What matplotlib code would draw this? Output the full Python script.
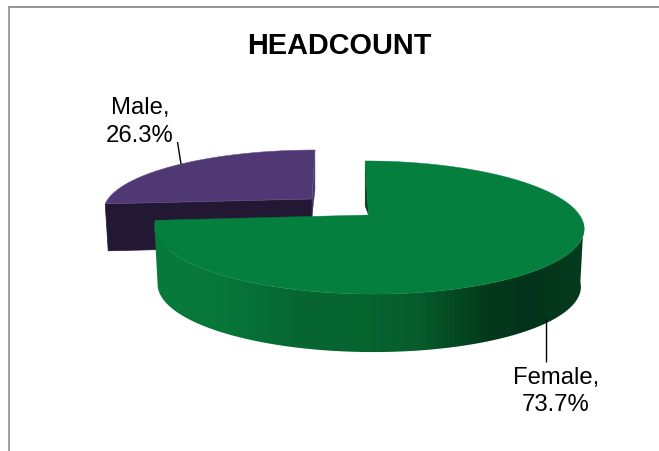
import numpy as np
import matplotlib
matplotlib.use("Agg")
import matplotlib.pyplot as plt
from matplotlib.patches import Polygon
from matplotlib.colors import LinearSegmentedColormap

plt.rcParams['font.family'] = ['Liberation Sans', 'DejaVu Sans']

# Data
labels = ["Female", "Male"]
values = [73.7, 26.3]
title = "HEADCOUNT"

# Colours
GREEN_TOP = "#047f3d"
GREEN_DARK = "#03401f"
PURPLE_TOP = "#503874"
PURPLE_FRONT = "#231833"
PURPLE_SIDE = "#4c356f"
wall_x = [150, 215, 250, 300, 370, 420, 470, 490, 530, 585]
wall_rgb = np.array([[7, 122, 60], [7, 120, 58], [6, 112, 56], [6, 102, 50], [7, 100, 47],
                     [6, 92, 44], [4, 66, 31], [3, 58, 27], [3, 51, 26], [5, 60, 30]]) / 255

W, H = 659, 452
fig = plt.figure(figsize=(W / 100, H / 100), dpi=100)
ax = fig.add_axes([0, 0, 1, 1])

PERSP = 0.188


def project(theta, apex, a, b, s):
    """Clockwise-from-top angle (radians) to picture position on the tilted pie plane."""
    theta = np.asarray(theta, dtype=float)
    w = 1 + PERSP * np.cos(theta)
    x = apex[0] + (a * np.sin(theta) + s * np.cos(theta)) / w
    y = apex[1] - b * np.cos(theta) / w
    return np.column_stack([x, y])


female_sweep = 2 * np.pi * values[0] / sum(values)

# Male slice: sits further back, pulled away from the Female slice
male_apex = (312, 200)
male_kw = dict(apex=male_apex, a=204, b=58.2, s=3.5)
male_t = np.linspace(female_sweep, 2 * np.pi, 120)
male_arc = project(male_t, **male_kw)
corner, far = male_arc[0], male_arc[-1]
ax.add_patch(Polygon([corner, male_apex, (male_apex[0], male_apex[1] + 47),
                      (corner[0] + 3, corner[1] + 47)], fc=PURPLE_FRONT, ec=PURPLE_FRONT, lw=0.5))
ax.add_patch(Polygon([far, (far[0], far[1] + 40), (male_apex[0], male_apex[1] + 17), male_apex],
                     fc=PURPLE_SIDE, ec=PURPLE_SIDE, lw=0.3))
ax.add_patch(Polygon(np.vstack([[male_apex], male_arc]), fc=PURPLE_TOP, ec="#6a5590", lw=0.4))

# Female slice
apex = (368.5, 216)
kw = dict(apex=apex, a=211, b=64.2, s=-4)
HEIGHT, SHRINK = 58, 0.985
t = np.linspace(0, female_sweep, 500)
top = project(t, **kw)
bottom = np.column_stack([apex[0] + (top[:, 0] - apex[0]) * SHRINK, top[:, 1] + HEIGHT])

start = top[0]
ax.add_patch(Polygon([start, apex, (start[0], start[1] + 45)], fc=GREEN_DARK, ec=GREEN_DARK, lw=0.3))

# Outer wall: horizontal gradient clipped to the swept outline of the rim
xs = np.linspace(wall_x[0], wall_x[-1], 436)
cmap = LinearSegmentedColormap.from_list(
    "wall", [((x - wall_x[0]) / (wall_x[-1] - wall_x[0]), tuple(c)) for x, c in zip(wall_x, wall_rgb)])
img = ax.imshow(xs[None, :], cmap=cmap, aspect="auto", interpolation="bilinear",
                extent=(wall_x[0], wall_x[-1], 360, 215), zorder=1.5)
front = (t > 1.7) & (t < 4.55)
outline = np.vstack([top[front], bottom[front][::-1]])
clip = Polygon(outline, closed=True, transform=ax.transData, fc="none", ec="none")
ax.add_patch(clip)
img.set_clip_path(clip)

ax.add_patch(Polygon(np.vstack([[apex], top]), fc=GREEN_TOP, ec=GREEN_TOP, lw=0.3, zorder=2))

ax.set_xlim(0, W)
ax.set_ylim(H, 0)
ax.axis("off")

# Leader lines
ax.plot([546, 546], [320, 363], color="black", lw=1, solid_capstyle="butt", zorder=3)
ax.plot([177.5, 181], [143, 165], color="black", lw=1, solid_capstyle="butt", zorder=3)

# Text
ax.text(339, 46.5, title, fontsize=20.8, fontweight="bold", ha="center", va="center", color="black")
ax.text(556, 391.5, f"{labels[0]},\n{values[0]}%", fontsize=17.2, ha="center", va="center",
        linespacing=1.32, color="black")
ax.text(140, 122, f"{labels[1]},\n{values[1]}%", fontsize=17.2, ha="center", va="center",
        linespacing=1.32, color="black")

# Chart frame: only top and left edges are visible
ax.plot([8, W], [7.5, 7.5], color="#8a8a8a", lw=1.3, solid_capstyle="butt")
ax.plot([8.5, 8.5], [7, H], color="#9a9a9a", lw=1.3, solid_capstyle="butt")

fig.savefig("out.png", dpi=100, facecolor="white")
